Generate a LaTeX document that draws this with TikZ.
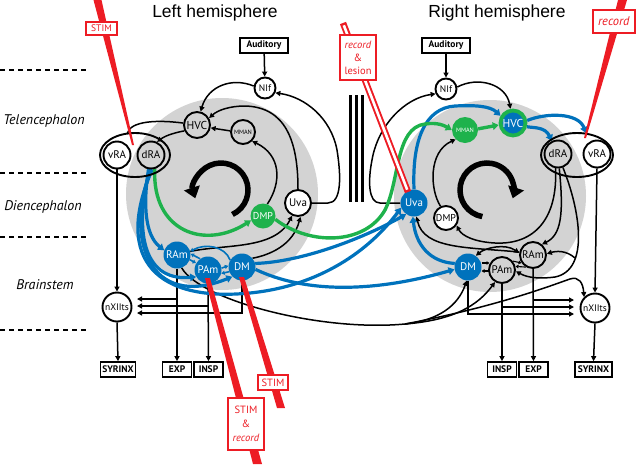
\documentclass[tikz,border=0pt]{standalone}
\usepackage{fontspec}
\setmainfont{PT Sans}
\newfontfamily\titlefont{Liberation Sans}
\usetikzlibrary{arrows.meta,shapes.geometric,calc}
\pgfdeclarelayer{conn}
\pgfsetlayers{conn,main}
\definecolor{nblue}{RGB}{0,114,188}
\definecolor{ngreen}{RGB}{30,178,76}
\definecolor{nred}{RGB}{237,28,36}
\definecolor{dgray}{RGB}{211,211,211}
\newcommand{\fsz}[1]{\fontsize{#1}{#1}\selectfont}
\begin{document}
\begin{tikzpicture}[x=1pt,y=-1pt,
  nd/.style={circle,draw,line width=1.9pt,inner sep=0pt,minimum size=26pt,font=\fsz{11}},
  bn/.style={circle,fill=nblue,text=white,inner sep=0pt,minimum size=27pt,font=\fsz{11}},
  gn/.style={circle,fill=ngreen,text=white,inner sep=0pt,minimum size=25pt,font=\fsz{10}},
  bx/.style={draw,line width=1.7pt,fill=white,inner sep=0pt,minimum height=15pt,font=\fsz{9.5}\bfseries},
  rb/.style={draw=nred,line width=1.8pt,fill=white,text=nred,inner sep=0pt,align=center,font=\fontsize{10.5}{14}\selectfont},
  bk/.style={line width=1.5pt,-{Triangle[length=5pt,width=5pt]}},
  bkn/.style={line width=1.5pt},
  bkd/.style={line width=1.5pt,{Triangle[length=5pt,width=5pt]}-{Triangle[length=5pt,width=5pt]}},
  bks/.style={line width=1.1pt,-{Triangle[length=3pt,width=3.5pt]}},
  bl/.style={draw=nblue,line width=3.2pt,-{Triangle[length=6pt,width=7.5pt]}},
  bls/.style={draw=nblue,line width=1.6pt,-{Triangle[length=3.5pt,width=4pt]}},
  gr/.style={draw=ngreen,line width=3.4pt,-{Triangle[length=6pt,width=7.5pt]}},
  dsh/.style={line width=1.6pt,dash pattern=on 5pt off 4pt},
  bigarc/.style={line width=5.5pt,-{Triangle[length=11pt,width=16pt]}},
  reg/.style={font=\fsz{14}\itshape},
]
\useasboundingbox (0,0) rectangle (640,464);

% ---------- titles and levels ----------
\node[font=\titlefont\fsz{17.5}] (tL) at (215,13) {Left hemisphere};
\node[font=\titlefont\fsz{17.5}] (tR) at (497,13) {Right hemisphere};
\foreach \yy in {70,173,237,330} \draw[dsh] (0,\yy) -- (89,\yy);
\node[reg] (tel) at (44,121) {Telencephalon};
\node[reg] (die) at (43,207) {Diencephalon};
\node[reg] (bra) at (45,285) {Brainstem};

% ---------- nodes ----------
% left
\node[bx,minimum width=48pt] (audL) at (264,45.5) {Auditory};
\node[nd,minimum size=21pt,fill=white,font=\fsz{9.5}] (nifL) at (265,88) {NIf};
\node[nd,fill=dgray,font=\fsz{11.5}] (hvcL) at (197,125) {HVC};
\node[nd,fill=dgray,minimum size=24pt,font=\fsz{6.3}] (mmanL) at (243,132) {MMAN};
\draw[line width=1.9pt] (135,155) ellipse [x radius=35, y radius=22];
\node[nd,fill=white,minimum size=27pt] (vraL) at (117,155) {vRA};
\node[nd,fill=dgray,minimum size=27pt] (draL) at (151,155) {dRA};
\node[nd,fill=white] (uvaL) at (298,203) {Uva};
\node[gn] (dmpL) at (263,216) {DMP};
\node[bn] (ramL) at (177,255) {RAm};
\node[bn] (pamL) at (208,270) {PAm};
\node[bn] (dmL) at (242,267) {DM};
\node[nd,fill=white,minimum size=29pt,font=\fsz{9.5}] (nxL) at (117,307) {nXIIts};
\node[bx,minimum width=35pt] (syrL) at (118,369.5) {SYRINX};
\node[bx,minimum width=29pt] (expL) at (177,369.5) {EXP};
\node[bx,minimum width=29pt] (inspL) at (208.5,369.5) {INSP};
% right
\node[bx,minimum width=48pt] (audR) at (446,45.5) {Auditory};
\node[nd,minimum size=21pt,fill=white,font=\fsz{9.5}] (nifR) at (446,89) {NIf};
\node[circle,fill=nblue,draw=ngreen,line width=3.8pt,text=white,inner sep=0pt,minimum size=25pt,font=\fsz{11.5}] (hvcR) at (513,123) {HVC};
\node[gn,minimum size=26pt,font=\fsz{6.3}] (mmanR) at (465,130) {MMAN};
\draw[line width=1.9pt] (577,155) ellipse [x radius=36, y radius=22];
\node[nd,fill=dgray,minimum size=27pt] (draR) at (558,154) {dRA};
\node[nd,fill=white,minimum size=27pt] (vraR) at (597,154) {vRA};
\node[bn] (uvaR) at (414,203) {Uva};
\node[nd,fill=white,minimum size=24pt,font=\fsz{10}] (dmpR) at (446,218) {DMP};
\node[bn] (dmR) at (468,267) {DM};
\node[nd,fill=dgray] (pamR) at (502,270) {PAm};
\node[nd,fill=dgray] (ramR) at (533,255) {RAm};
\node[nd,fill=white,minimum size=29pt,font=\fsz{9.5}] (nxR) at (595,308) {nXIIts};
\node[bx,minimum width=29pt] (inspR) at (502,369.5) {INSP};
\node[bx,minimum width=29pt] (expR) at (533.5,369.5) {EXP};
\node[bx,minimum width=37pt] (syrR) at (593.5,369.5) {SYRINX};

\coordinate (lj) at (405,324);
\coordinate (vraLtop) at (127,134);
\coordinate (vraRtop) at (586,133);

\begin{pgfonlayer}{conn}
\fill[dgray] (222,194) circle [radius=96];
\fill[dgray] (490,196) circle [radius=96];
% commissure bars
\foreach \xx in {348.5,354.5,360.5} \fill (\xx,95) rectangle ++(3.6,107);
% big circular arrows
\draw[bigarc] (221,190) ++(65:27) arc[start angle=65, end angle=-198, radius=27];
\draw[bigarc] (487,190) ++(100:27) arc[start angle=100, end angle=378, radius=27];

% ---- left black ----
\draw[bk] (audL) -- (nifL);
\draw[bk] (nifL.170) .. controls (232,77) and (208,86) .. (hvcL.75);
\draw[bk] (mmanL.175) -- (hvcL.-12);
\draw[bk] (hvcL.205) .. controls (178,132) and (166,135) .. (draL.65);
\draw[bkn] (hvcL.172) .. controls (160,120) and (130,120) .. (vraLtop);
\draw[bk] (uvaL.90) .. controls (298,140) and (285,107) .. (245,106) .. controls (230,106) and (218,110) .. (hvcL.30);
\draw[bk] (dmpL.70) .. controls (282,182) and (281,155) .. (mmanL.-45);
\draw[bk] (uvaL.0) -- (328,203) .. controls (342,203) and (341,175) .. (337,150) .. controls (331,118) and (305,97) .. (nifL.-25);
\draw[bk] (ramL.15) .. controls (225,244) and (275,250) .. (uvaL.-115);
\draw[bk] (dmL.40) .. controls (270,255) and (293,245) .. (uvaL.-80);
\draw[bk] (vraL.south) -- (nxL.north);
\draw[bk] (nxL.south) -- (syrL.north);
\draw[bk] (ramL.south) -- (expL.north);
\draw[bk] (pamL.south) -- (inspL.north);
\draw[bk] (dmL.south) |- (137,313);
\draw[bk] (208,306) -- (137,306);
\draw[bk] (177,299) -- (137,299);
% long crossing lines
\draw[bkn] (ramL.-70) .. controls (200,300) and (320,332) .. (lj);
\draw[bk] (lj) .. controls (440,320) and (458,305) .. (dmR.-95);
\draw[bk] (lj) .. controls (455,320) and (478,305) .. (pamR.-120);
\draw[bk] (lj) .. controls (500,306) and (555,284) .. (570,279) .. controls (579,276) and (583,283) .. (nxR.135);

% ---- right black ----
\draw[bk] (audR) -- (nifR);
\draw[bk] (nifR.10) .. controls (478,76) and (506,84) .. (hvcR.100);
\draw[bk] (uvaR.180) -- (380,203) .. controls (368,203) and (368,180) .. (372,160) .. controls (378,125) and (405,98) .. (nifR.-155);
\draw[bk] (dmpR.115) .. controls (430,190) and (428,152) .. (mmanR.-135);
\draw[bk] (draR.-100) .. controls (558,218) and (535,245) .. (495,243) .. controls (475,242) and (462,236) .. (dmpR.-35);
\draw[bk] (draR.-85) .. controls (564,215) and (561,235) .. (ramR.50);
\draw[bk] (draR.-70) .. controls (580,210) and (590,270) .. (555,277) .. controls (540,279) and (528,278) .. (pamR.-5);
\draw[bk] (575,258) .. controls (566,250) and (556,251) .. (ramR.5);
\draw[bk] (ramR.168) .. controls (470,247) and (424,250) .. (uvaR.-80);
\draw[bkd] (dmR.55) .. controls (485,248) and (505,243) .. (ramR.172);
\draw[bks] (481.5,263) -- (489.5,263);
\draw[bks] (489.5,271) -- (481.5,271);
\draw[bks] (pamR.40) -- (ramR.215);
\draw[bks] (ramR.240) -- (pamR.15);
\draw[bk] (vraR.south) -- (nxR.north);
\draw[bk] (nxR.south) -- (syrR.north);
\draw[bk] (pamR.south) -- (inspR.north);
\draw[bk] (ramR.south) -- (expR.north);
\draw[bk] (dmR.south) |- (574,314);
\draw[bk] (502,307) -- (574,307);
\draw[bk] (533,300) -- (574,300);

% ---- blue ----
\draw[bl] (draL.-100) .. controls (143,205) and (145,235) .. (ramL.160);
\draw[bl] (draL.-95) .. controls (135,225) and (140,282) .. (pamL.-150);
\draw[bl] (draL.-90) .. controls (124,240) and (150,310) .. (dmL.-135);
\draw[bl] (draL.-85) .. controls (112,262) and (160,302) .. (250,293) .. controls (320,286) and (370,250) .. (uvaR.-160);
\draw[bl] (dmL.15) .. controls (300,262) and (360,240) .. (uvaR.-125);
\draw[bl] (dmL.-10) .. controls (320,300) and (400,285) .. (dmR.190);
\draw[bls] (dmL.150) .. controls (225,246) and (205,243) .. (ramL.15);
\draw[bls] (ramL.-20) -- (pamL.150);
\draw[bls] (pamL.125) -- (ramL.5);
\draw[bls] (pamL.8) -- (dmL.175);
\draw[bls] (dmL.200) -- (pamL.-15);
\draw[bl] (uvaR.90) .. controls (412,140) and (425,108) .. (455,106) .. controls (475,105) and (490,106) .. (hvcR.150);
\draw[bl] (hvcR.-15) .. controls (535,128) and (545,127) .. (draR.115);
\draw[bl] (hvcR.10) .. controls (545,113) and (578,112) .. (vraRtop);
\draw[bl] (dmR.165) .. controls (430,262) and (416,245) .. (uvaR.-95);

% ---- green ----
\draw[gr] (draL.-75) .. controls (152,232) and (205,250) .. (dmpL.-160);
\draw[gr] (dmpL.-15) .. controls (310,246) and (365,245) .. (385,210) .. controls (400,180) and (395,128) .. (425,124) .. controls (438,122) and (445,126) .. (mmanR.180);
\draw[gr] (mmanR.5) -- (hvcR.188);
\end{pgfonlayer}

% ---------- probes ----------
\fill[nred] (93.5,0) -- (101.5,0) -- (134,145) -- (132,145) -- cycle;
\fill[nred] (618,0) -- (627,0) -- (586,138) -- (584,138) -- cycle;
\fill[nred] (205,278) -- (210,278) -- (262,464) -- (253,464) -- cycle;
\fill[nred] (239,277) -- (244,277) -- (285,408) -- (277,408) -- cycle;
\draw[nred,line width=6.5pt] (343,23) -- (408,192);
\draw[white,line width=2.6pt] (343.8,25.3) -- (407.2,189.7);

\node[rb,minimum width=31pt,minimum height=13pt,font=\fsz{9.5}] (stim1) at (101.5,28.5) {STIM};
\node[rb,minimum width=30pt,minimum height=15pt] (stim2) at (273,382.5) {STIM};
\node[rb,minimum width=36pt,minimum height=52pt] (stim3) at (246,424) {STIM\\\&\\\textit{record}};
\node[rb,minimum width=36pt,minimum height=45pt,font=\fontsize{10.5}{13}\selectfont] (rl) at (358,57.5) {\textit{record}\\\&\\lesion};
\node[rb,minimum width=42pt,minimum height=23pt,font=\fsz{12.5}] (rec) at (614,21.5) {\textit{record}};
\end{tikzpicture}
\end{document}
